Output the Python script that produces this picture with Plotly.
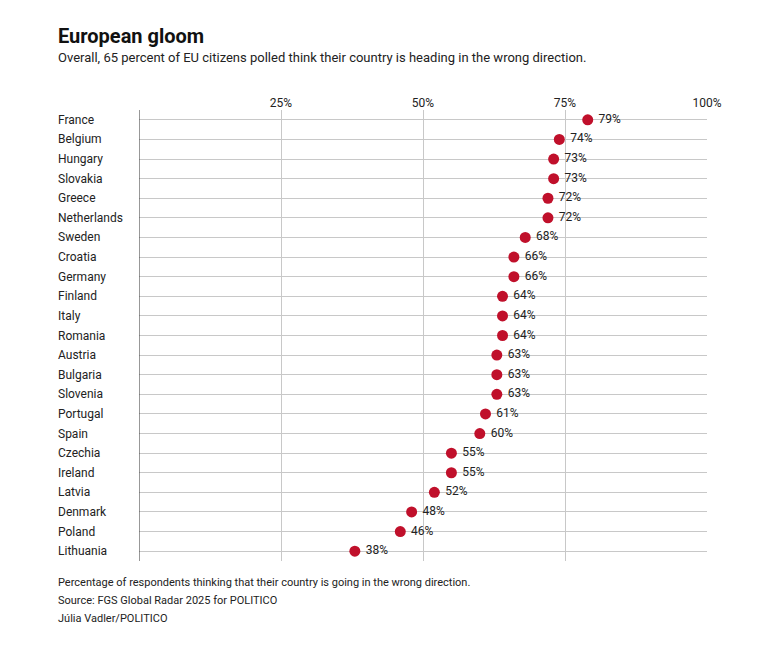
import plotly.graph_objects as go

countries = ["France", "Belgium", "Hungary", "Slovakia", "Greece", "Netherlands", "Sweden",
             "Croatia", "Germany", "Finland", "Italy", "Romania", "Austria", "Bulgaria",
             "Slovenia", "Portugal", "Spain", "Czechia", "Ireland", "Latvia", "Denmark",
             "Poland", "Lithuania"]
values = [79, 74, 73, 73, 72, 72, 68, 66, 66, 64, 64, 64, 63, 63, 63, 61, 60, 55, 55, 52, 48, 46, 38]

FONT = "Roboto, sans-serif"
W, H = 775, 649
OFF = 8  # page offset
L, R, T, B = 139 - OFF, 68 + OFF, 110 - OFF, 88 + OFF
pw = W - L - R
ph = H - T - B
LX = (56 - OFF - L) / pw

fig = go.Figure(go.Scatter(
    x=values, y=countries, mode="markers+text",
    marker=dict(color="#c0102b", size=11),
    text=[f" {v}%" for v in values], textposition="middle right",
    textfont=dict(family=FONT, size=12, color="#222"),
    cliponaxis=False, hoverinfo="skip",
))

for c in countries:
    fig.add_annotation(x=LX, xref="paper", y=c, yref="y", text=c,
                       showarrow=False, xanchor="left",
                       font=dict(family=FONT, size=12, color="#222"))

fig.add_shape(type="line", x0=0, x1=0, y0=-0.5, y1=len(countries) - 0.5,
              xref="x", yref="y", line=dict(color="#333", width=1))

fig.update_layout(
    width=W, height=H, margin=dict(l=L, r=R, t=T, b=B),
    plot_bgcolor="white", paper_bgcolor="white", showlegend=False,
    font=dict(family=FONT, color="#222"),
    xaxis=dict(range=[0, 100], side="top", tickvals=[25, 50, 75, 100],
               ticktext=["25%", "50%", "75%", "100%"], showgrid=True,
               gridcolor="#c8c8c8", zeroline=False, tickfont=dict(size=12)),
    yaxis=dict(categoryorder="array", categoryarray=countries[::-1],
               range=[-0.5, len(countries) - 0.5], showticklabels=False,
               showgrid=True, gridcolor="#c8c8c8", zeroline=False),
)

def ypix(p):
    return 1 - (p - OFF - T) / ph

fig.add_annotation(x=LX, y=ypix(22), xref="paper", yref="paper",
                   text="<b>European gloom</b>", showarrow=False, xanchor="left",
                   font=dict(family=FONT, size=20, color="#111"))
fig.add_annotation(x=LX, y=ypix(48), xref="paper", yref="paper",
                   text="Overall, 65 percent of EU citizens polled think their country is heading in the wrong direction.",
                   showarrow=False, xanchor="left", font=dict(family=FONT, size=13, color="#222"))
footer = ["Percentage of respondents thinking that their country is going in the wrong direction.",
          "Source: FGS Global Radar 2025 for POLITICO",
          "Júlia Vadler/POLITICO"]
for i, t in enumerate(footer):
    fig.add_annotation(x=LX, y=ypix(591 + 18 * i), xref="paper", yref="paper",
                       text=t, showarrow=False, xanchor="left",
                       font=dict(family=FONT, size=11, color="#222"))

fig.write_html("out.html")
